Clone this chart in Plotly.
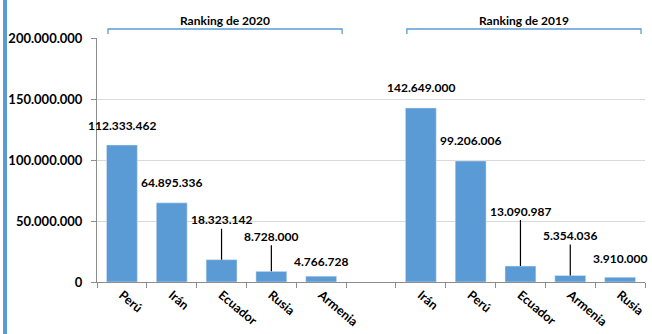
import plotly.graph_objects as go

# ---- data ----
countries_2020 = ["Perú", "Irán", "Ecuador", "Rusia", "Armenia"]
values_2020 = [112333462, 64895336, 18323142, 8728000, 4766728]
countries_2019 = ["Irán", "Perú", "Ecuador", "Armenia", "Rusia"]
values_2019 = [142649000, 99206006, 13090987, 5354036, 3910000]
group_titles = ["Ranking de 2020", "Ranking de 2019"]
y_ticks = [0, 50000000, 100000000, 150000000, 200000000]

# ---- styling / layout helpers ----
BAR = "#5B9BD5"
FONT = "Lato"
label_offsets_2020 = [19, 20, 40, 35, 15]
label_offsets_2019 = [20, 20, 55, 40, 19]
leaders_2020 = [False, False, True, True, False]
leaders_2019 = [False, False, True, True, False]

x_2020 = list(range(len(countries_2020)))
x_2019 = [len(countries_2020) + 1 + i for i in range(len(countries_2019))]
n_slots = len(countries_2020) + 1 + len(countries_2019)


def fmt(v):
    return f"{v:,}".replace(",", ".")


fig = go.Figure()
fig.add_trace(go.Bar(x=x_2020, y=values_2020, marker_color=BAR, width=0.62,
                     hoverinfo="skip", showlegend=False))
fig.add_trace(go.Bar(x=x_2019, y=values_2019, marker_color=BAR, width=0.62,
                     hoverinfo="skip", showlegend=False))

annotations = []
for xs, vals, offs, leads in [(x_2020, values_2020, label_offsets_2020, leaders_2020),
                              (x_2019, values_2019, label_offsets_2019, leaders_2019)]:
    for x, v, off, lead in zip(xs, vals, offs, leads):
        annotations.append(dict(
            x=x, y=v, xref="x", yref="y", text=fmt(v),
            showarrow=True, arrowhead=0, ax=0, ay=-off, standoff=0,
            arrowwidth=1.2,
            arrowcolor="#000000" if lead else "rgba(0,0,0,0)",
            font=dict(family=FONT, size=12, color="#000000", weight="bold"),
        ))

shapes = []
for xs, title in [(x_2020, group_titles[0]), (x_2019, group_titles[1])]:
    x0 = xs[0] - 0.28
    x1 = xs[-1] + 0.42
    shapes.append(dict(type="path", xref="x", yref="paper", ysizemode="pixel", yanchor=1,
                       path=f"M {x0},4 L {x0},9 L {x1},9 L {x1},4",
                       line=dict(color=BAR, width=1.3)))
    annotations.append(dict(x=(x0 + x1) / 2, y=1, xref="x", yref="paper", yshift=18,
                            yanchor="middle", xanchor="center",
                            text=title, showarrow=False,
                            font=dict(family=FONT, size=12, color="#000000", weight="bold")))

# left decorative stripe
shapes.append(dict(type="rect", xref="paper", xsizemode="pixel", xanchor=0,
                   x0=-94, x1=-90, yref="paper", ysizemode="pixel", yanchor=0,
                   y0=-60, y1=300, line=dict(width=0), fillcolor=BAR))

fig.update_layout(
    width=652, height=334,
    margin=dict(l=97, r=5, t=38, b=51),
    paper_bgcolor="white", plot_bgcolor="white",
    separators=",.",
    bargap=0.38,
    annotations=annotations,
    shapes=shapes,
    font=dict(family=FONT, color="#000000"),
)
fig.update_xaxes(
    range=[-0.5, n_slots - 0.5],
    tickvals=x_2020 + x_2019,
    ticktext=countries_2020 + countries_2019,
    tickangle=40,
    ticks="",
    showgrid=False, zeroline=False,
    showline=True, linecolor="#8c8c8c", linewidth=1,
    tickfont=dict(family=FONT, size=12.5, color="#000000", weight="bold"),
    minor=dict(tickvals=[i - 0.5 for i in range(n_slots + 1)], ticks="outside",
               ticklen=5, tickcolor="#8c8c8c", showgrid=False),
)
fig.update_yaxes(
    range=[0, 200000000],
    tickvals=y_ticks,
    tickformat=",d",
    ticks="outside", ticklen=5, tickcolor="#8c8c8c",
    showline=True, linecolor="#8c8c8c", linewidth=1,
    showgrid=True, gridcolor="#d9d9d9", gridwidth=1,
    zeroline=False,
    ticklabelstandoff=6,
    tickfont=dict(family=FONT, size=13, color="#000000", weight="bold"),
)

fig.write_html("out.html",
               config={"displayModeBar": False},
               post_script="document.body.style.margin='0';document.body.style.overflow='hidden';")
